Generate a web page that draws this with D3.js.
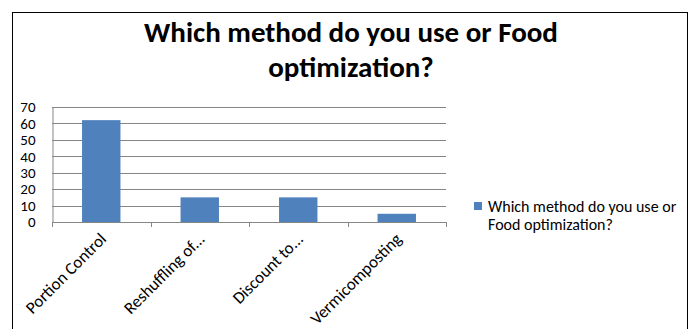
<!DOCTYPE html>
<html>
<head>
<meta charset="utf-8">
<script src="https://cdn.jsdelivr.net/npm/d3@7"></script>
<style>
  html, body { margin: 0; padding: 0; background: #fff; }
  svg { display: block; font-family: Carlito, Lato, "Open Sans", sans-serif; }
</style>
</head>
<body>
<svg id="chart" width="690" height="329"></svg>
<script>
// Survey answers: counts per food-optimization method
const categories = ["Portion Control", "Reshuffling of...", "Discount to...", "Vermicomposting"];
const values = [62, 15, 15, 5];
const yTicks = [0, 10, 20, 30, 40, 50, 60, 70];
const titleLines = ["Which method do you use or Food", "optimization?"];
const legendLines = ["Which method do you use or", "Food optimization?"];

const svg = d3.select("#chart");
const FONT = "Carlito, Lato, 'Open Sans', sans-serif";

// Outer chart frame
svg.append("rect")
  .attr("x", 12.5).attr("y", 12.5)
  .attr("width", 675).attr("height", 330)
  .attr("fill", "#fff").attr("stroke", "#000").attr("stroke-width", 1);

// Title
svg.append("g").selectAll("text").data(titleLines).join("text")
  .attr("x", 351).attr("y", (d, i) => 42 + i * 35)
  .attr("text-anchor", "middle")
  .attr("font-weight", "bold").attr("font-size", 29)
  .attr("fill", "#000")
  .text(d => d);

const plot = { left: 52, right: 446, top: 107, bottom: 222 };

const x = d3.scaleBand().domain(categories).range([plot.left, plot.right]).paddingInner(0).paddingOuter(0);
const y = d3.scaleLinear().domain([0, 70]).range([plot.bottom, plot.top]);

// Horizontal gridlines
svg.append("g").selectAll("line").data(yTicks.filter(t => t > 0)).join("line")
  .attr("x1", plot.left).attr("x2", plot.right)
  .attr("y1", d => Math.round(y(d)) + 0.5).attr("y2", d => Math.round(y(d)) + 0.5)
  .attr("stroke", "#868686").attr("stroke-width", 1);

// Bars
const bw = x.bandwidth() * 0.39;
svg.append("g").selectAll("rect").data(values).join("rect")
  .attr("x", (d, i) => x(categories[i]) + (x.bandwidth() - bw) / 2)
  .attr("width", bw)
  .attr("y", d => y(d))
  .attr("height", d => y(0) - y(d))
  .attr("fill", "#4F81BD");

// Y axis
const yAxis = svg.append("g").attr("transform", `translate(${plot.left + 0.5},0)`)
  .call(d3.axisLeft(y).tickValues(yTicks).tickSize(0).tickPadding(17));
yAxis.select(".domain").attr("stroke", "#868686");
yAxis.selectAll("text").attr("font-size", 15).attr("fill", "#000").attr("font-family", FONT);

// X axis line and tick marks at category boundaries
svg.append("line")
  .attr("x1", plot.left).attr("x2", plot.right)
  .attr("y1", plot.bottom + 0.5).attr("y2", plot.bottom + 0.5)
  .attr("stroke", "#868686");
const bounds = categories.map(c => x(c)).concat([plot.right]);
svg.append("g").selectAll("line").data(bounds).join("line")
  .attr("x1", d => Math.round(d) + 0.5).attr("x2", d => Math.round(d) + 0.5)
  .attr("y1", plot.bottom).attr("y2", plot.bottom + 5)
  .attr("stroke", "#868686");

// Rotated category labels
svg.append("g").selectAll("text").data(categories).join("text")
  .attr("transform", d => `translate(${x(d) + x.bandwidth() / 2 + 6},${plot.bottom + 18}) rotate(-45)`)
  .attr("text-anchor", "end")
  .attr("font-size", 17).attr("fill", "#000")
  .text(d => d);

// Legend
const lg = svg.append("g").attr("transform", "translate(474,202)");
lg.append("rect").attr("width", 8).attr("height", 8).attr("fill", "#4F81BD");
lg.selectAll("text").data(legendLines).join("text")
  .attr("x", 14).attr("y", (d, i) => 10 + i * 18)
  .attr("font-size", 16).attr("fill", "#000")
  .text(d => d);
</script>
</body>
</html>
